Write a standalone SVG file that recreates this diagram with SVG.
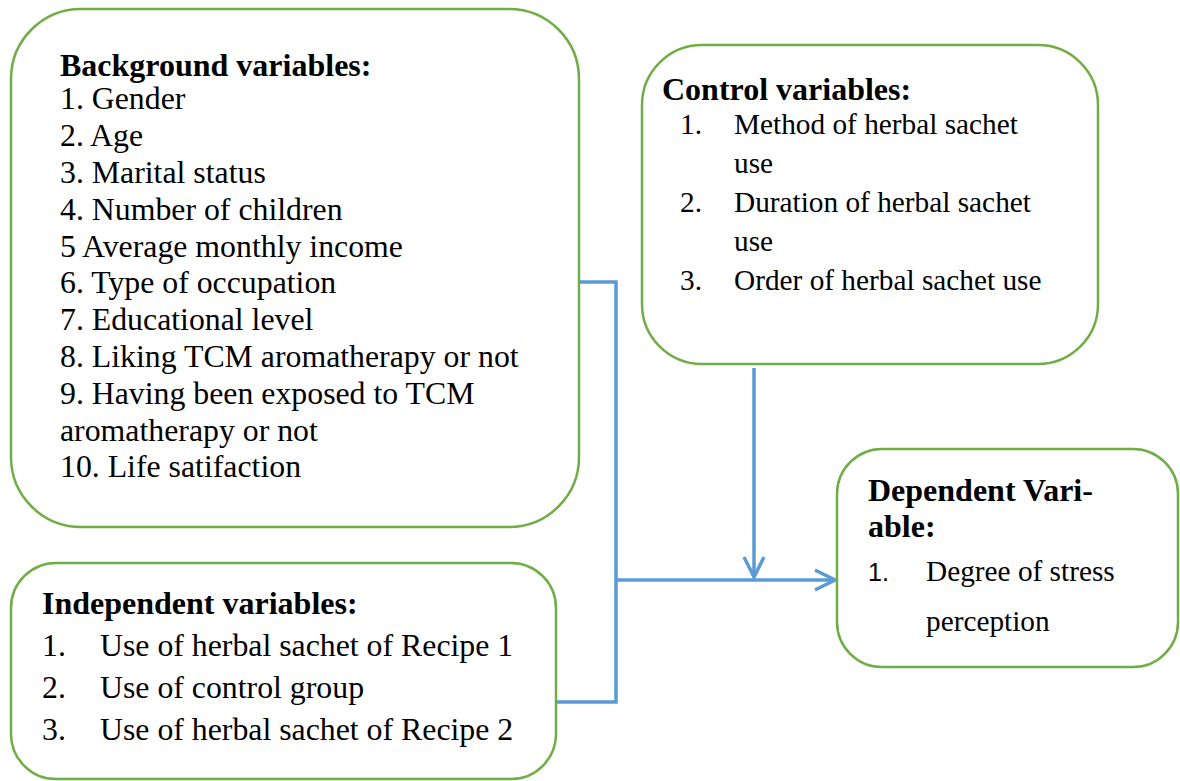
<svg xmlns="http://www.w3.org/2000/svg" width="1180" height="781" viewBox="0 0 1180 781">
<defs>
<style>
.box{fill:#fff;stroke:#70AD47;stroke-width:2.5}
.t{font-family:"Liberation Serif","Times New Roman",serif;font-size:31.8px;fill:#000}
.s{font-size:29.3px}
.b{font-weight:bold;font-size:32px}
.c{fill:none;stroke:#5B9BD5;stroke-width:3.5}
.ah{fill:none;stroke:#5B9BD5;stroke-width:3.5}
</style>
</defs>
<rect width="1180" height="781" fill="#fff"/>
<g id="connectors">
<path class="c" d="M579,282 H616 V702 H556"/>
<path class="c" d="M616,580 H835"/>
<path class="ah" d="M815,570 L835,580 L815,590"/>
<path class="c" d="M754,368 V576"/>
<path class="ah" d="M744,557 L754,577 L764,557"/>
</g>
<g id="background">
<rect class="box" x="11" y="9" width="568" height="518" rx="70" ry="70"/>
<text class="t b" x="60" y="76">Background variables:</text>
<text class="t" x="60" y="109">1. Gender</text>
<text class="t" x="60" y="146">2. Age</text>
<text class="t" x="60" y="183">3. Marital status</text>
<text class="t" x="60" y="220">4. Number of children</text>
<text class="t" x="60" y="257">5 Average monthly income</text>
<text class="t" x="60" y="293">6. Type of occupation</text>
<text class="t" x="60" y="330">7. Educational level</text>
<text class="t" x="60" y="367">8. Liking TCM aromatherapy or not</text>
<text class="t" x="60" y="404">9. Having been exposed to TCM</text>
<text class="t" x="60" y="441">aromatherapy or not</text>
<text class="t" x="60" y="477">10. Life satifaction</text>
</g>
<g id="control">
<rect class="box" x="642" y="45" width="456" height="319" rx="60" ry="60"/>
<text class="t b" x="662" y="100">Control variables:</text>
<text class="t s" x="680" y="134">1.</text>
<text class="t s" x="734" y="134">Method of herbal sachet</text>
<text class="t s" x="734" y="173">use</text>
<text class="t s" x="680" y="212">2.</text>
<text class="t s" x="734" y="212">Duration of herbal sachet</text>
<text class="t s" x="734" y="251">use</text>
<text class="t s" x="680" y="290">3.</text>
<text class="t s" x="734" y="290">Order of herbal sachet use</text>
</g>
<g id="dependent">
<rect class="box" x="837" y="449" width="341" height="218" rx="45" ry="45"/>
<text class="t b" x="868" y="501">Dependent Vari-</text>
<text class="t b" x="868" y="537">able:</text>
<text x="868" y="581" style="font-family:'Liberation Sans',Arial,sans-serif;font-size:25px;font-weight:300">1.</text>
<text class="t s" x="926" y="581">Degree of stress</text>
<text class="t s" x="926" y="631">perception</text>
</g>
<g id="independent">
<rect class="box" x="11" y="563" width="545" height="216" rx="45" ry="45"/>
<text class="t b" x="42" y="614">Independent variables:</text>
<text class="t" x="42" y="656">1.</text>
<text class="t" x="100" y="656">Use of herbal sachet of Recipe 1</text>
<text class="t" x="42" y="698">2.</text>
<text class="t" x="100" y="698">Use of control group</text>
<text class="t" x="42" y="740">3.</text>
<text class="t" x="100" y="740">Use of herbal sachet of Recipe 2</text>
</g>
</svg>
